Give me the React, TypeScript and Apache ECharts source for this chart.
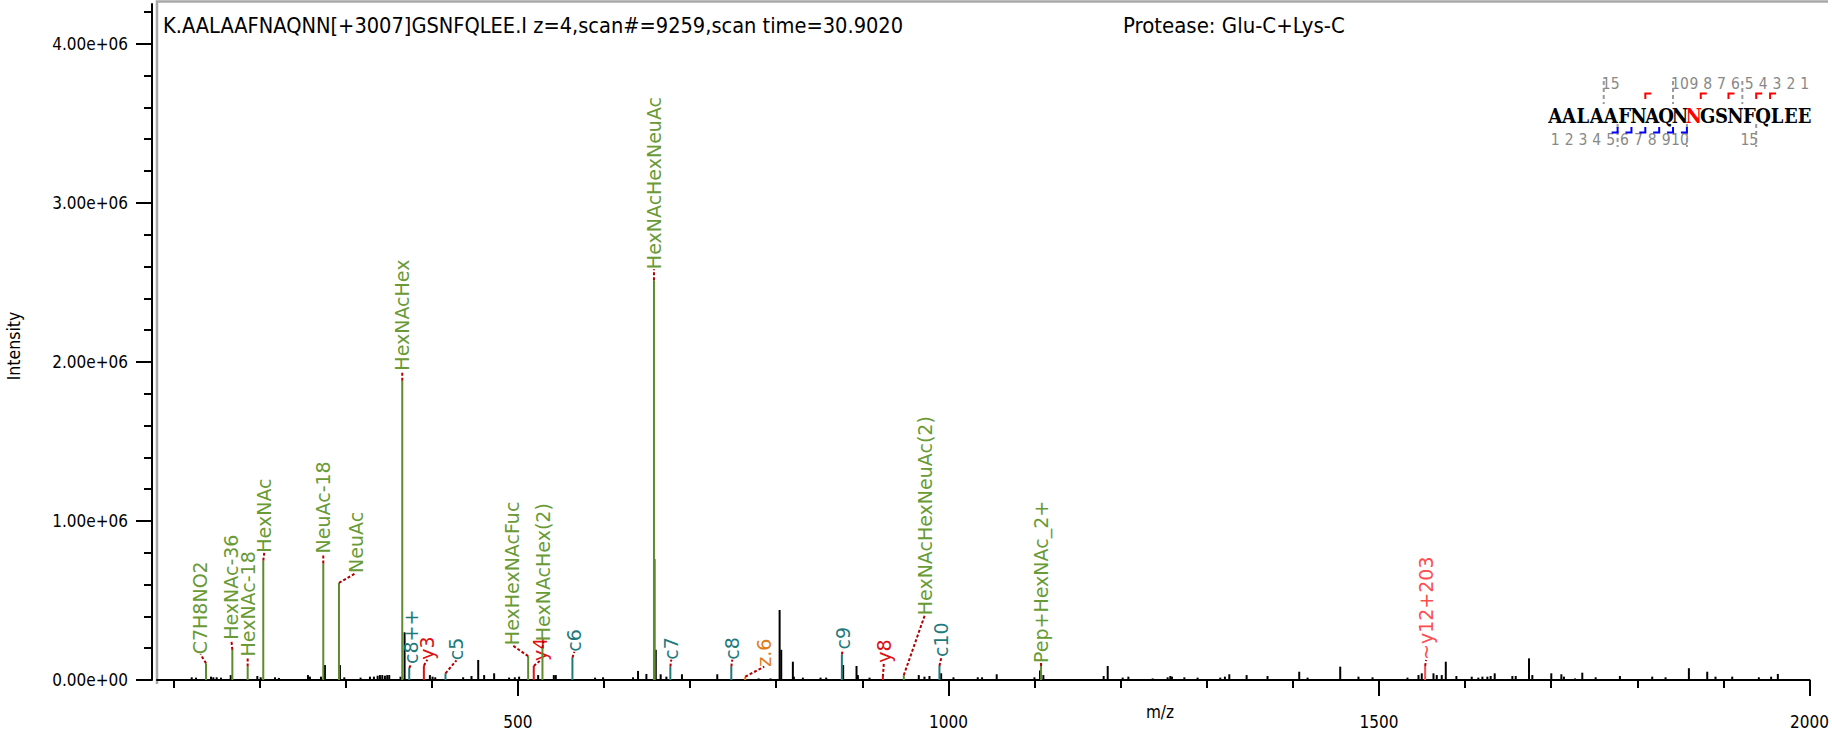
import React, { useEffect, useRef } from "react";
import * as echarts from "echarts";

// ---------- DATA ----------
// unannotated peaks: [m/z, intensity]
const noisePeaks: number[][] = [
  [121.3, 17000], [126.3, 15000], [143.7, 21000], [146.4, 17000], [150.3, 17000], [155.3, 15000],
  [166.6, 31000], [197.5, 25000], [201.4, 17000], [218.0, 17000], [222.6, 13000], [256.3, 31000],
  [258.6, 21000], [271.4, 21000], [276.0, 94000], [293.4, 94000], [298.5, 17000], [317.4, 15000],
  [328.3, 21000], [332.9, 21000], [337.2, 27000], [339.9, 31000], [342.6, 31000], [345.7, 27000],
  [348.4, 31000], [350.7, 31000], [363.8, 21000], [368.5, 300000], [397.9, 31000], [401.0, 21000],
  [404.1, 17000], [436.5, 17000], [446.2, 25000], [454.0, 126000], [460.9, 31000], [472.5, 42000],
  [489.9, 15000], [496.5, 17000], [501.5, 21000], [523.6, 31000], [541.8, 31000], [544.1, 31000],
  [589.7, 15000], [599.0, 17000], [633.8, 17000], [639.6, 57000], [649.3, 38000], [660.2, 190000],
  [665.9, 36000], [672.5, 21000], [690.6, 36000], [731.6, 36000], [779.6, 10000], [793.5, 10000],
  [804.0, 440000], [805.9, 190000], [819.4, 115000], [820.6, 21000], [831.0, 15000], [851.5, 15000],
  [858.1, 15000], [877.8, 94000], [893.3, 88000], [894.9, 31000], [908.4, 15000], [965.6, 31000],
  [972.2, 21000], [978.0, 25000], [991.6, 42000], [1005.9, 17000], [1034.1, 17000], [1039.1, 17000],
  [1056.1, 36000], [1099.9, 17000], [1106.4, 60000], [1110.3, 31000], [1180.3, 25000], [1185.0, 88000],
  [1202.4, 15000], [1209.0, 21000], [1237.2, 10000], [1254.6, 17000], [1257.7, 25000], [1259.6, 21000],
  [1274.0, 17000], [1289.4, 15000], [1315.7, 15000], [1321.1, 21000], [1326.2, 36000], [1346.3, 31000],
  [1370.6, 25000], [1407.4, 52000], [1417.1, 15000], [1455.0, 84000], [1476.2, 21000], [1492.5, 17000],
  [1533.1, 15000], [1545.9, 31000], [1549.7, 42000], [1563.3, 42000], [1567.1, 31000], [1572.9, 31000],
  [1577.6, 115000], [1589.9, 25000], [1607.7, 21000], [1615.4, 15000], [1620.1, 21000], [1625.9, 21000],
  [1629.7, 25000], [1634.4, 42000], [1654.9, 25000], [1658.8, 25000], [1674.2, 136000], [1678.1, 31000],
  [1700.1, 42000], [1711.8, 36000], [1714.8, 21000], [1727.6, 10000], [1736.1, 46000], [1751.6, 17000],
  [1779.8, 25000], [1817.3, 21000], [1832.8, 17000], [1859.9, 74000], [1881.2, 52000], [1890.8, 21000],
  [1910.2, 21000], [1941.1, 17000], [1955.4, 21000], [1963.2, 38000],
];

// isotope peak of an annotated glycan ion (coloured, unlabelled)
const isotopePeaks: number[][] = [[659.0, 760000]];

// annotated peaks
const annMz = [137.9, 168.5, 186.3, 204.4, 274.1, 292.3, 365.8, 373.9, 390.9, 416.0, 512.0, 518.5,
  528.6, 563.4, 658.1, 677.1, 747.9, 764.1, 876.3, 923.9, 948.2, 989.6, 1107.6, 1553.6];
const annInt = [105000, 190000, 85000, 750000, 733000, 610000, 1882000, 75000, 90000, 42000, 150000, 88000,
  200000, 140000, 2514000, 84000, 84000, 21000, 160000, 20000, 30000, 88000, 88000, 88000];
const annLabels = ["C7H8NO2", "HexNAc-36", "HexNAc-18", "HexNAc", "NeuAc-18", "NeuAc", "HexNAcHex", "c8++",
  "y3", "c5", "HexHexNAcFuc", "y4", "HexNAcHex(2)", "c6", "HexNAcHexNeuAc", "c7", "c8", "z.6", "c9", "y8",
  "HexNAcHexNeuAc(2)", "c10", "Pep+HexNAc_2+", "~y12+203"];
const annKinds = ["g", "g", "g", "g", "g", "g", "g", "c", "y", "c", "g", "y", "g", "c", "g", "c", "c", "z",
  "c", "y", "g", "c", "g", "yl"];

// label layout (pixel offsets of label start from peak top)
const annDx = [-5.5, -1, 0, 1, 0, 17, 0, 2, 3.5, 11, -16, 6, 1, 2, 0, 1, 1, 19, 1, 1, 21, 2, 0, 1];
const annGap = [9, 10, 10, 8, 10, 10, 10, 4, 6, 13, 11, 5, 7, 6, 11, 7, 7, 10, 5, 14, 60, 9, 3, 6];

const yMajorTicks = [0, 1000000, 2000000, 3000000, 4000000];
const yMinorTicks = [200000, 400000, 600000, 800000, 1200000, 1400000, 1600000, 1800000, 2200000, 2400000,
  2600000, 2800000, 3200000, 3400000, 3600000, 3800000, 4200000];
const xMajorTicks = [500, 1000, 1500, 2000];
const xMinorTicks = [100, 200, 300, 400, 600, 700, 800, 900, 1100, 1200, 1300, 1400, 1600, 1700, 1800, 1900];

const titleText = "K.AALAAFNAQNN[+3007]GSNFQLEE.I z=4,scan#=9259,scan time=30.9020";
const proteaseText = "Protease: Glu-C+Lys-C";
const sequence = "AALAAFNAQNNGSNFQLEE";
const glycoSite = 10;
const yIonsMatched = [3, 4, 6, 8, 12];
const cIonsMatched = [5, 6, 7, 8, 9, 10];
const ionNumbers = [1, 2, 3, 4, 5, 6, 7, 8, 9, 10, 15];

// ---------- STYLE ----------
const COND = "'DejaVu Sans Condensed', 'Liberation Sans Narrow', 'DejaVu Sans', sans-serif";
const LABELFONT = "'DejaVu Sans', Verdana, sans-serif";
const SEQFONT = "'DejaVu Serif Condensed', 'DejaVu Serif', 'Liberation Serif', serif";
const kindText: Record<string, string> = { g: "#699a36", c: "#1f7a7c", y: "#dd1010", z: "#e07b1a", yl: "#ff4d4d" };
const kindLine: Record<string, string> = { g: "#5e8c2c", c: "#1f7a7c", y: "#dd1010", z: "#e07b1a", yl: "#ff4d4d" };

function fmtExp(v: number) {
  return v.toExponential(2).replace(/e([+-])(\d)$/, "e$10$2");
}

export default function App() {
  const ref = useRef<HTMLDivElement>(null);
  useEffect(() => {
    if (!ref.current) return;
    const chart = echarts.init(ref.current, undefined, { renderer: "svg" });

    const seqLeft = 1548.3;
    const charW = 13.86;
    const seqY = 115.5;
    const g: any[] = [];
    // frame
    g.push({ type: "polyline", shape: { points: [[157, 684], [157, 1.5], [1828, 1.5]] }, style: { stroke: "#a9a9a9", lineWidth: 2.5, fill: null } });
    g.push({ type: "text", x: 163, y: 25, style: { text: titleText, fill: "#000", fontSize: 21.6, fontFamily: COND, align: "left", verticalAlign: "middle" } });
    g.push({ type: "text", x: 1123, y: 25, style: { text: proteaseText, fill: "#000", fontSize: 22, fontFamily: COND, align: "left", verticalAlign: "middle" } });
    g.push({ type: "text", x: 14, y: 346, rotation: Math.PI / 2, style: { text: "Intensity", fill: "#000", fontSize: 17.5, fontFamily: COND, align: "center", verticalAlign: "middle" } });
    g.push({ type: "text", x: 1160, y: 712, style: { text: "m/z", fill: "#000", fontSize: 17, fontFamily: COND, align: "center", verticalAlign: "middle" } });
    // sequence
    for (let i = 0; i < sequence.length; i++) {
      g.push({ type: "text", x: seqLeft + charW * (i + 0.5), y: seqY, style: { text: sequence[i], fill: i === glycoSite ? "#ff0000" : "#000", fontSize: 20, fontWeight: "bold", fontFamily: SEQFONT, align: "center", verticalAlign: "middle" } });
    }
    const n = sequence.length;
    for (const k of ionNumbers) {
      g.push({ type: "text", x: seqLeft + charW * (n - k + 0.5), y: 84, style: { text: String(k), fill: "#888", fontSize: 15.5, fontFamily: COND, align: "center", verticalAlign: "middle" } });
      g.push({ type: "text", x: seqLeft + charW * (k - 0.5), y: 140, style: { text: String(k), fill: "#888", fontSize: 15.5, fontFamily: COND, align: "center", verticalAlign: "middle" } });
    }
    for (const k of [5, 10, 15]) {
      const bt = seqLeft + charW * (n - k);
      g.push({ type: "line", shape: { x1: bt, y1: 81, x2: bt, y2: 104 }, style: { stroke: "#999", lineWidth: 2, lineDash: [4, 3] } });
      const bb = seqLeft + charW * k;
      g.push({ type: "line", shape: { x1: bb, y1: 124, x2: bb, y2: 147 }, style: { stroke: "#999", lineWidth: 2, lineDash: [4, 3] } });
    }
    for (const k of yIonsMatched) {
      const b = seqLeft + charW * (n - k);
      g.push({ type: "polyline", shape: { points: [[b, 99], [b, 93.5], [b + 6, 93.5]] }, style: { stroke: "#ff0000", lineWidth: 2, fill: null } });
    }
    for (const k of cIonsMatched) {
      const b = seqLeft + charW * k;
      g.push({ type: "polyline", shape: { points: [[b - 6, 132.5], [b, 132.5], [b, 127]] }, style: { stroke: "#0000ff", lineWidth: 2, fill: null } });
    }

    const peakData = [
      ...noisePeaks.map((p) => [p[0], p[1], 0]),
      ...isotopePeaks.map((p) => [p[0], p[1], 1]),
    ];
    const annData = annMz.map((m, i) => [m, annInt[i], i]);

    const axisCommon = { type: "value", splitLine: { show: false } };
    const option: any = {
      animation: false,
      grid: { left: 157, top: 4, right: 21.3, bottom: 51, containLabel: false },
      xAxis: [
        { ...axisCommon, min: 81, max: 2000, position: "bottom", offset: 7,
          axisLine: { show: true, lineStyle: { color: "#000", width: 2 } },
          axisTick: { show: true, length: 8, lineStyle: { color: "#000", width: 2 }, customValues: xMinorTicks },
          axisLabel: { show: false } },
        { ...axisCommon, min: 81, max: 2000, position: "bottom", offset: 7,
          axisLine: { show: false },
          axisTick: { show: true, length: 16, lineStyle: { color: "#000", width: 2 }, customValues: xMajorTicks },
          axisLabel: { show: true, customValues: xMajorTicks, margin: 26, color: "#000", fontSize: 17, fontFamily: COND, formatter: (v: number) => String(v) } },
      ],
      yAxis: [
        { ...axisCommon, min: 0, max: 4250000, position: "left", offset: 5,
          axisLine: { show: true, lineStyle: { color: "#000", width: 2 } },
          axisTick: { show: true, length: 8, lineStyle: { color: "#000", width: 2 }, customValues: yMinorTicks },
          axisLabel: { show: false } },
        { ...axisCommon, min: 0, max: 4250000, position: "left", offset: 5,
          axisLine: { show: false },
          axisTick: { show: true, length: 16, lineStyle: { color: "#000", width: 2 }, customValues: yMajorTicks },
          axisLabel: { show: true, customValues: yMajorTicks, margin: 24, color: "#000", fontSize: 17, fontFamily: COND, formatter: (v: number) => fmtExp(v) } },
      ],
      graphic: g,
      series: [
        {
          type: "custom", xAxisIndex: 0, yAxisIndex: 0, silent: true, clip: false,
          data: peakData, encode: { x: 0, y: 1 },
          renderItem: (params: any, api: any) => {
            const x = api.value(0), y = api.value(1), c = api.value(2);
            const p0 = api.coord([x, 0]);
            const p1 = api.coord([x, y]);
            return { type: "line", shape: { x1: p0[0], y1: p0[1], x2: p1[0], y2: p1[1] }, style: { stroke: c === 1 ? kindLine.g : "#000", lineWidth: 2 } };
          },
        },
        {
          type: "custom", xAxisIndex: 0, yAxisIndex: 0, silent: true, clip: false,
          data: annData, encode: { x: 0, y: 1 },
          renderItem: (params: any, api: any) => {
            const x = api.value(0), y = api.value(1), i = api.value(2);
            const kind = annKinds[i];
            const p0 = api.coord([x, 0]);
            const p1 = api.coord([x, y]);
            const lx = p1[0] + annDx[i];
            const ly = p1[1] - annGap[i];
            return {
              type: "group",
              children: [
                { type: "line", shape: { x1: p0[0], y1: p0[1], x2: p1[0], y2: p1[1] }, style: { stroke: kindLine[kind], lineWidth: 2 } },
                { type: "line", shape: { x1: p1[0], y1: p1[1], x2: lx, y2: ly }, style: { stroke: "#b00000", lineWidth: 2, lineDash: [3, 2] } },
                { type: "text", x: lx, y: ly, rotation: Math.PI / 2, style: { text: annLabels[i], fill: kindText[kind], fontSize: 19, fontFamily: LABELFONT, align: "left", verticalAlign: "middle" } },
              ],
            };
          },
        },
      ],
    };
    chart.setOption(option);
    return () => chart.dispose();
  }, []);
  return <div ref={ref} style={{ position: "fixed", left: 0, top: 0, width: 1832, height: 731, background: "#fff" }} />;
}
